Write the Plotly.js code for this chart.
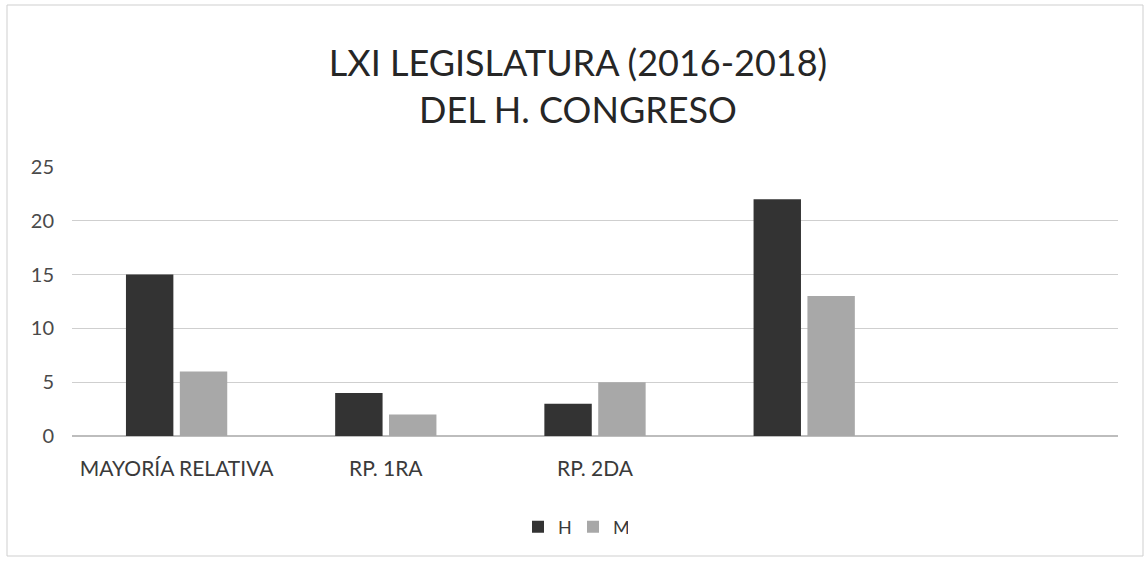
<!DOCTYPE html>
<html>
<head>
<meta charset="utf-8">
<script src="https://cdn.plot.ly/plotly-3.0.1.min.js"></script>
<style>
  html, body { margin: 0; padding: 0; background: #ffffff; }
  #chart { width: 1147px; height: 569px; }
</style>
</head>
<body>
<div id="chart"></div>
<script>
// Data
const categories = ["MAYORÍA RELATIVA", "RP. 1RA", "RP. 2DA", "", ""];
const seriesH = [15, 4, 3, 22];
const seriesM = [6, 2, 5, 13];
const seriesNames = ["H", "M"];
const yTicks = [0, 5, 10, 15, 20, 25];

const xIdx = categories.map((_, i) => i);

const traces = [
  {
    type: "bar",
    name: seriesNames[0],
    x: xIdx.slice(0, seriesH.length),
    y: seriesH,
    marker: { color: "#333333" },
    hoverinfo: "y+name"
  },
  {
    type: "bar",
    name: seriesNames[1],
    x: xIdx.slice(0, seriesM.length),
    y: seriesM,
    marker: { color: "#a8a8a8" },
    hoverinfo: "y+name"
  }
];

const L = 72, R = 1118, T = 167, B = 436;
const W = 1147, H = 569;
const pw = R - L, ph = B - T;

const layout = {
  width: W,
  height: H,
  margin: { l: L, r: W - R, t: T, b: H - B, pad: 0 },
  paper_bgcolor: "#ffffff",
  plot_bgcolor: "#ffffff",
  font: { family: "Lato, 'Open Sans', sans-serif", color: "#3a3a3a" },
  title: {
    text: "LXI LEGISLATURA (2016-2018)<br>DEL H. CONGRESO",
    font: { family: "Lato, 'Open Sans', sans-serif", size: 36, color: "#262626" },
    xref: "container",
    x: 578 / W,
    xanchor: "center",
    yref: "container",
    y: 1 - 76 / H,
    yanchor: "top"
  },
  barmode: "group",
  bargap: 0.485,
  bargroupgap: 0.12,
  showlegend: true,
  legend: {
    orientation: "h",
    x: (573 - L) / pw,
    xanchor: "center",
    y: (B - 527) / ph,
    yanchor: "middle",
    font: { size: 18, color: "#3a3a3a" },
    traceorder: "normal",
    itemwidth: 30,
    entrywidth: 10,
    entrywidthmode: "pixels"
  },
  xaxis: {
    type: "linear",
    range: [-0.5, categories.length - 0.5],
    tickmode: "array",
    tickvals: xIdx,
    ticktext: categories,
    showgrid: false,
    zeroline: false,
    showline: false,
    ticks: "",
    tickfont: { size: 21, color: "#3a3a3a" },
    ticklabelstandoff: 18,
    fixedrange: true
  },
  yaxis: {
    range: [0, 25],
    tickmode: "array",
    tickvals: yTicks,
    ticktext: yTicks.map(String),
    showgrid: true,
    gridcolor: "#cfcfcf",
    gridwidth: 1,
    zeroline: true,
    zerolinecolor: "#bdbdbd",
    zerolinewidth: 1.5,
    showline: false,
    ticks: "",
    tickfont: { size: 20, color: "#4a4a4a" },
    ticklabelstandoff: 17,
    fixedrange: true
  },
  shapes: [
    {
      type: "rect",
      xref: "paper", yref: "paper",
      x0: (7 - L) / pw, x1: (1143 - L) / pw,
      y0: (B - 556) / ph, y1: (B - 5) / ph,
      line: { color: "#cfcfcf", width: 1 },
      fillcolor: "rgba(0,0,0,0)",
      layer: "below"
    }
  ]
};

Plotly.newPlot("chart", traces, layout, { displayModeBar: false, staticPlot: true });
</script>
</body>
</html>
